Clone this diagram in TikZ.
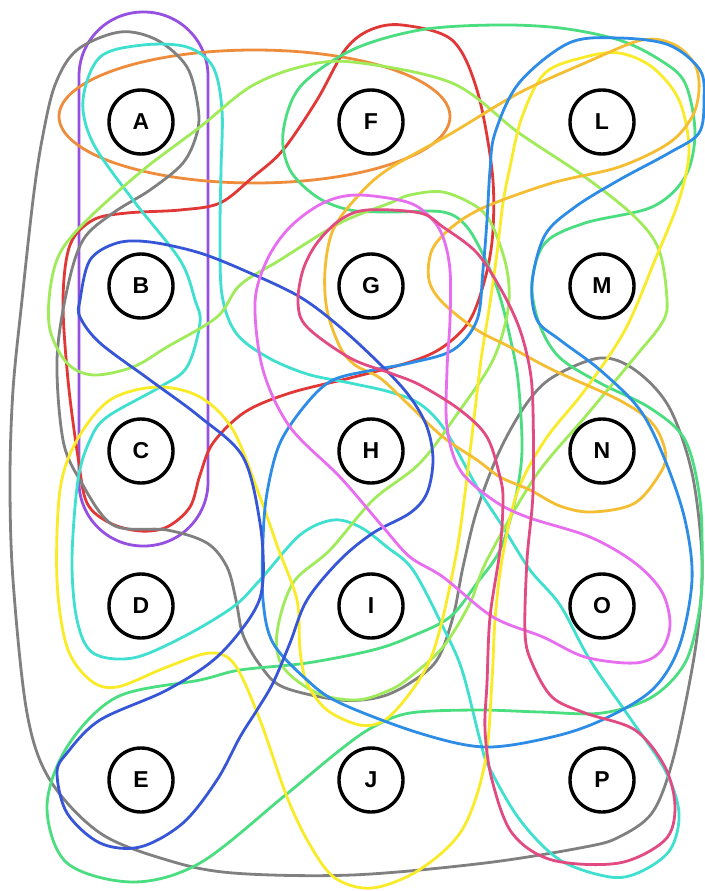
\documentclass[tikz,border=0pt]{standalone}
\usepackage{fontspec}
\setmainfont{Liberation Sans}
\definecolor{cPurple}{RGB}{150,80,225}
\definecolor{cOrange}{RGB}{238,140,60}
\definecolor{cRed}{RGB}{225,55,55}
\definecolor{cGray}{RGB}{128,128,128}
\definecolor{cCyan}{RGB}{64,224,208}
\definecolor{cEmerald}{RGB}{74,222,128}
\definecolor{cLime}{RGB}{160,235,90}
\definecolor{cYellow}{RGB}{250,235,40}
\definecolor{cGold}{RGB}{245,190,50}
\definecolor{cSky}{RGB}{45,140,230}
\definecolor{cRoyal}{RGB}{55,85,215}
\definecolor{cMagenta}{RGB}{232,110,240}
\definecolor{cRose}{RGB}{225,75,130}
\tikzset{
  edgecurve/.style={line width=2.8pt},
  vertex/.style={circle, draw=black, line width=3.4pt, fill=white, minimum size=64pt, inner sep=0pt,
    font=\fontsize{23}{23}\selectfont\bfseries}
}
\begin{document}
\begin{tikzpicture}[x=1pt,y=-1pt]
\useasboundingbox[fill=white] (0,0) rectangle (704,891);
% purple
\draw[cPurple, edgecurve, rounded corners=64pt] (79,12) rectangle (208,546);
% orange
\draw[cOrange, edgecurve] (254.5,116.5) ellipse [x radius=195.5pt, y radius=66.5pt];
% red
\draw[cRed, edgecurve] plot[smooth cycle, tension=0.55] coordinates {(402,25) (452,40) (477,90) (492,170) (493,230) (486,275) (470,320) (443,347) (410,362) (350,378) (290,393) (245,412) (213,443) (200,475) (190,507) (167,527) (140,531) (110,523) (87,503) (78,457) (68,380) (63,300) (70,245) (93,220) (127,213) (180,210) (220,203) (253,177) (283,150) (317,100) (345,50) (370,30)};
% gray
\draw[cGray, edgecurve] plot[smooth cycle, tension=0.55] coordinates {(120,32) (157,40) (187,67) (198,107) (197,133) (183,163) (150,190) (113,213) (83,240) (67,290) (57,360) (63,440) (80,480) (113,525) (167,530) (207,543) (227,567) (236,600) (243,635) (260,665) (283,687) (340,700) (380,697) (410,683) (437,660) (453,617) (463,567) (477,510) (500,450) (527,403) (553,377) (600,358) (635,370) (669,407) (692,473) (702,557) (699,620) (690,680) (672,763) (652,813) (619,837) (585,847) (485,863) (352,875) (233,873) (167,860) (100,833) (50,780) (27,713) (13,580) (10,480) (13,390) (22,300) (33,200) (42,140) (55,85) (77,50)};
% cyan
\draw[cCyan, edgecurve] plot[smooth cycle, tension=0.55] coordinates {(143,45) (187,47) (213,67) (222,110) (221,170) (220,233) (222,295) (236,333) (267,357) (307,374) (350,383) (390,392) (420,404) (445,430) (477,487) (503,527) (530,570) (560,605) (590,660) (630,718) (665,770) (679,813) (670,850) (640,872) (610,877) (560,860) (520,820) (489,767) (480,740) (462,670) (443,627) (413,570) (387,547) (360,527) (333,520) (300,535) (260,580) (233,607) (183,637) (133,658) (93,653) (77,620) (72,560) (78,480) (90,440) (107,417) (160,387) (187,367) (200,323) (195,300) (180,260) (133,200) (93,143) (83,100) (100,57)};
% emerald
\draw[cEmerald, edgecurve] plot[smooth cycle, tension=0.55] coordinates {(495,25) (560,28) (619,40) (660,60) (685,83) (695,133) (685,177) (652,207) (585,223) (545,243) (532,283) (539,323) (559,357) (600,383) (650,408) (685,440) (700,500) (702,570) (699,613) (685,663) (652,697) (602,713) (540,712) (477,710) (410,713) (373,727) (340,750) (283,797) (200,863) (133,882) (67,863) (47,807) (67,747) (117,697) (200,680) (240,670) (307,663) (373,650) (410,637) (450,617) (477,583) (500,550) (515,500) (522,450) (518,380) (510,337) (500,297) (487,263) (467,227) (443,212) (390,212) (350,210) (317,197) (290,170) (283,133) (300,87) (352,50) (420,30)};
% lime
\draw[cLime, edgecurve] plot[smooth cycle, tension=0.55] coordinates {(352,62) (452,83) (519,133) (585,177) (635,217) (659,250) (667,300) (662,323) (635,357) (585,417) (535,477) (487,560) (470,603) (443,647) (410,677) (390,690) (357,700) (317,693) (283,667) (277,633) (293,583) (330,550) (373,500) (420,463) (460,410) (493,360) (508,310) (507,270) (493,227) (477,207) (443,192) (410,195) (390,203) (340,223) (280,260) (240,285) (217,317) (167,347) (133,367) (93,375) (67,363) (50,330) (50,290) (60,253) (87,220) (143,170) (200,127) (250,87) (300,67)};
% yellow
\draw[cYellow, edgecurve] plot[smooth cycle, tension=0.55] coordinates {(585,57) (619,53) (652,67) (679,100) (689,150) (679,200) (655,260) (625,330) (585,390) (545,440) (517,493) (502,560) (495,620) (492,680) (485,763) (462,830) (419,870) (372,888) (335,878) (310,845) (287,797) (260,720) (235,665) (210,653) (167,667) (117,687) (90,680) (67,647) (57,580) (60,490) (77,440) (110,400) (157,387) (200,397) (233,430) (260,497) (278,548) (297,600) (300,650) (307,683) (327,710) (360,725) (385,720) (410,693) (430,660) (443,617) (457,550) (465,493) (473,427) (481,360) (490,303) (497,253) (503,203) (510,167) (522,117) (545,73)};
% gold
\draw[cGold, edgecurve] plot[smooth cycle, tension=0.55] coordinates {(642,40) (675,45) (695,65) (699,90) (692,117) (669,143) (619,167) (552,183) (485,207) (452,227) (432,250) (429,280) (443,303) (477,330) (510,347) (553,370) (619,400) (652,423) (665,450) (662,470) (635,503) (592,512) (560,506) (530,490) (500,477) (477,460) (443,437) (407,403) (380,378) (355,365) (340,347) (327,310) (325,270) (333,230) (357,197) (387,170) (452,133) (519,93) (585,63)};
% sky blue
\draw[cSky, edgecurve] plot[smooth cycle, tension=0.55] coordinates {(619,38) (669,45) (700,70) (704,100) (699,133) (669,153) (619,180) (575,207) (545,235) (532,283) (537,320) (560,340) (600,370) (640,410) (665,460) (685,520) (692,580) (679,647) (652,690) (602,720) (552,737) (485,747) (419,733) (340,703) (307,680) (273,643) (263,600) (263,540) (267,493) (280,443) (307,403) (333,380) (373,370) (410,363) (453,350) (477,320) (483,270) (487,220) (490,170) (495,133) (519,83) (569,43)};
% royal blue
\draw[cRoyal, edgecurve] plot[smooth cycle, tension=0.55] coordinates {(80,300) (90,260) (117,243) (150,242) (200,253) (250,273) (300,297) (340,327) (383,367) (410,397) (427,427) (433,460) (427,493) (410,513) (373,533) (340,560) (307,600) (290,643) (273,683) (257,710) (240,737) (217,780) (183,823) (140,847) (100,843) (67,813) (57,773) (67,753) (100,720) (167,690) (217,657) (253,613) (263,580) (260,523) (243,457) (200,417) (150,380) (100,343) (80,317)};
% magenta
\draw[cMagenta, edgecurve] plot[smooth cycle, tension=0.55] coordinates {(357,195) (407,202) (430,217) (443,237) (450,270) (450,320) (447,370) (447,427) (460,470) (493,500) (527,517) (590,537) (635,563) (662,592) (670,625) (660,652) (635,663) (585,657) (543,637) (493,617) (443,577) (410,557) (383,527) (340,477) (290,427) (263,370) (255,303) (267,260) (290,227) (323,203)};
% rose
\draw[cRose, edgecurve] plot[smooth cycle, tension=0.55] coordinates {(367,210) (420,213) (443,227) (477,253) (503,293) (520,330) (530,370) (533,410) (533,493) (527,560) (525,633) (532,663) (552,697) (585,713) (635,730) (665,767) (675,807) (665,840) (619,863) (552,860) (512,833) (492,780) (485,730) (487,683) (490,617) (500,550) (503,500) (500,477) (487,437) (460,410) (420,385) (390,373) (350,358) (307,327) (298,303) (303,270) (317,243) (340,220)};
% nodes
\node[vertex] (A) at (141,122) {A};
\node[vertex] (F) at (371,122) {F};
\node[vertex] (L) at (602,122) {L};
\node[vertex] (B) at (141,286) {B};
\node[vertex] (G) at (371,286) {G};
\node[vertex] (M) at (602,286) {M};
\node[vertex] (C) at (141,451) {C};
\node[vertex] (H) at (371,451) {H};
\node[vertex] (N) at (602,451) {N};
\node[vertex] (D) at (141,606) {D};
\node[vertex] (I) at (371,606) {I};
\node[vertex] (O) at (602,606) {O};
\node[vertex] (E) at (141,780) {E};
\node[vertex] (J) at (371,780) {J};
\node[vertex] (P) at (602,780) {P};
\end{tikzpicture}
\end{document}
